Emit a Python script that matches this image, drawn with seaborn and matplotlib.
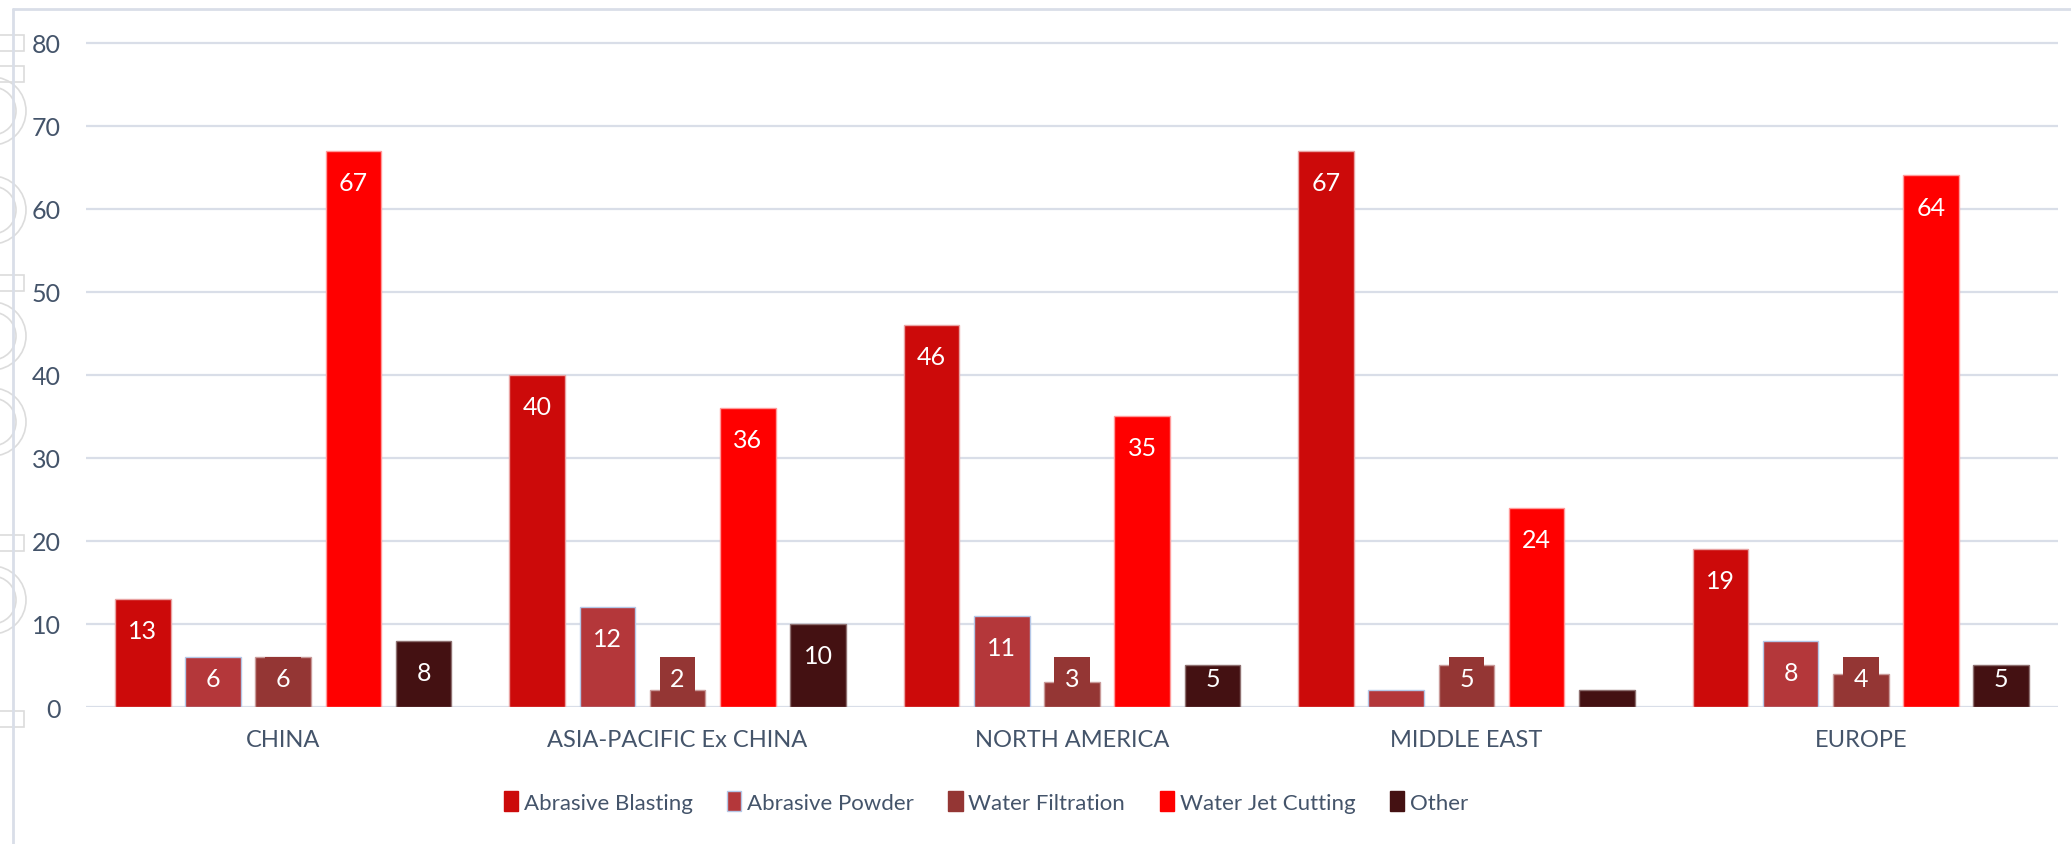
import numpy as np
import pandas as pd
import seaborn as sns
import matplotlib.pyplot as plt
from matplotlib.patches import Patch, Circle, Rectangle
from matplotlib.lines import Line2D

# ---------------- data ----------------
regions = ["CHINA", "ASIA-PACIFIC Ex CHINA", "NORTH AMERICA", "MIDDLE EAST", "EUROPE"]
series = ["Abrasive Blasting", "Abrasive Powder", "Water Filtration", "Water Jet Cutting", "Other"]
abrasive_blasting = [13, 40, 46, 67, 19]
abrasive_powder = [6, 12, 11, 2, 8]
water_filtration = [6, 2, 3, 5, 4]
water_jet_cutting = [67, 36, 35, 24, 64]
other = [8, 10, 5, 2, 5]
hidden_labels = [("Abrasive Powder", "MIDDLE EAST"), ("Other", "MIDDLE EAST")]
y_ticks = [0, 10, 20, 30, 40, 50, 60, 70, 80]

colors = ["#CC0A0A", "#B4373A", "#943634", "#FF0000", "#441112"]
edge_colors = ["#E9A3A3", "#B4C7E7", "#C99A99", "#FF9A9A", "#8E7070"]

values = [abrasive_blasting, abrasive_powder, water_filtration, water_jet_cutting, other]
rows = []
for s, vals in zip(series, values):
    for r, v in zip(regions, vals):
        rows.append({"region": r, "series": s, "value": v})
df = pd.DataFrame(rows)

# ---------------- style ----------------
sns.set_theme(style="white")
plt.rcParams["font.family"] = ["Lato", "DejaVu Sans"]
text_color = "#44546A"
grid_color = "#D9DEE8"

W, H = 2071, 845
fig = plt.figure(figsize=(W / 100, H / 100), dpi=100)
px_per_unit = (708 - 43.6) / 80
top_px = 43.6 - px_per_unit * 1.0
ax = fig.add_axes([86 / W, 1 - 708 / H, (2058 - 86) / W, (708 - top_px) / H])

sns.barplot(data=df, x="region", y="value", hue="series", order=regions,
            hue_order=series, palette=colors, width=0.89, gap=0.21,
            saturation=1, ax=ax, legend=False, errorbar=None)

for cont, ec in zip(ax.containers, edge_colors):
    for b in cont:
        b.set_edgecolor(ec)
        b.set_linewidth(1.0)

# data labels
for si, (cont, s) in enumerate(zip(ax.containers, series)):
    for ri, b in enumerate(cont):
        if (s, regions[ri]) in hidden_labels:
            continue
        v = b.get_height()
        x = b.get_x() + b.get_width() / 2
        y = max(v - 3.8, 3.4)
        kw = {}
        if s == "Water Filtration":
            kw["bbox"] = dict(boxstyle="square,pad=0.42", fc=colors[si], ec="none")
        ax.text(x, y, f"{v:g}", ha="center", va="center", color="white",
                fontsize=18, zorder=5, **kw)

ax.set_ylim(0, 81)
ax.set_xlim(-0.5, 4.5)
ax.set_yticks(y_ticks)
ax.set_xlabel("")
ax.set_ylabel("")
ax.yaxis.grid(True, color=grid_color, linewidth=1.6)
ax.set_axisbelow(True)
for sp in ax.spines.values():
    sp.set_visible(False)
ax.tick_params(axis="y", length=0, labelsize=18, labelcolor=text_color, pad=18)
ax.tick_params(axis="x", length=0, labelsize=17, labelcolor=text_color, pad=16)

# legend
handles = [Patch(facecolor=c, edgecolor=(ec if s == "Abrasive Powder" else c), linewidth=1)
           for c, ec, s in zip(colors, edge_colors, series)]
fig.legend(handles, series, loc="center", bbox_to_anchor=(0.476, 1 - 803 / H), ncol=5,
           frameon=False, fontsize=16, handlelength=0.65, handleheight=1.0,
           handletextpad=0.25, columnspacing=1.55, labelcolor=text_color)

# chart frame and faint background decoration
fig.add_artist(Line2D([13 / W, 13 / W], [0, 1 - 10 / H], color=grid_color, lw=2))
fig.add_artist(Line2D([13 / W, 1], [1 - 10 / H, 1 - 10 / H], color=grid_color, lw=2))
for cy in [112, 211, 337, 423, 601]:
    for rad in [34, 24]:
        fig.add_artist(Circle((-8, H - cy), rad, transform=None, fill=False,
                              ec="#DCDCDC", lw=1.2))
for ry in [44, 75, 284, 544, 720]:
    fig.add_artist(Rectangle((-4, H - ry - 8), 28, 16, transform=None, fill=False,
                             ec="#DCDCDC", lw=1.2))

fig.savefig("out.png", dpi=100)
